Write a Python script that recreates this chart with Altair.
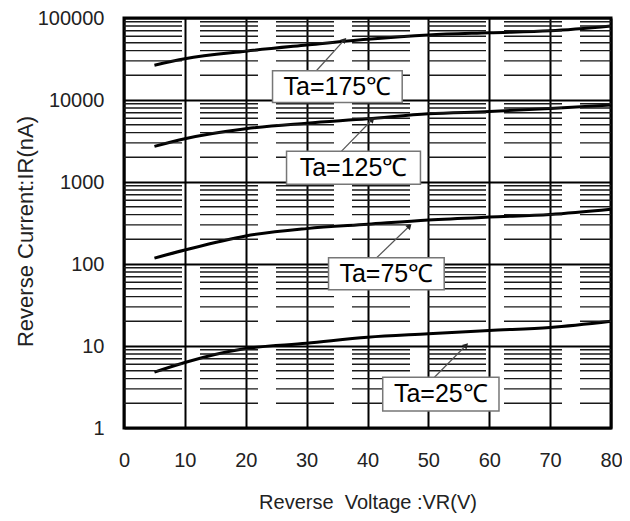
import altair as alt
import pandas as pd

# ---- data ----
vr = [5, 10, 20, 30, 40, 50, 60, 70, 80]
ir_175 = [26500, 31800, 39400, 46800, 55000, 62000, 66000, 69800, 80000]
ir_125 = [2720, 3370, 4460, 5210, 5890, 6780, 7230, 7870, 8720]
ir_75 = [118, 148, 220, 270, 305, 344, 374, 401, 464]
ir_25 = [4.8, 6.3, 9.3, 10.8, 12.8, 14.1, 15.5, 16.8, 20.0]
series = ["175", "125", "75", "25"]

labels = ["Ta=175℃", "Ta=125℃", "Ta=75℃", "Ta=25℃"]
box_x1 = [24.4, 26.7, 33.6, 42.5]
box_x2 = [45.7, 48.7, 52.6, 61.6]
box_ytop = [22740, 2364, 119, 4.16]
box_ybot = [9290, 940, 48.6, 1.61]
arrow_x1 = [31.6, 35.7, 41.5, 51.0]
arrow_y1 = [22740, 2364, 119, 4.16]
arrow_x2 = [36.2, 40.8, 46.9, 56.2]
arrow_y2 = [54100, 5780, 291, 10.2]

x_ticks = list(range(0, 81, 10))
y_decades = [1, 10, 100, 1000, 10000, 100000]
y_minor = [m * 10 ** k for k in range(5) for m in range(2, 10)]

W, H = 487, 410
FONT = "Liberation Sans"

rows = []
for name, vals in zip(series, [ir_175, ir_125, ir_75, ir_25]):
    for v, i in zip(vr, vals):
        rows.append({"vr": v, "ir": i, "s": name})
curves = pd.DataFrame(rows)

ann = pd.DataFrame({
    "label": labels,
    "bx1": box_x1, "bx2": box_x2, "by1": box_ytop, "by2": box_ybot,
    "ax1": arrow_x1, "ay1": arrow_y1, "ax2": arrow_x2, "ay2": arrow_y2,
})
ann["cx"] = (ann["bx1"] + ann["bx2"]) / 2
ann["cy"] = (ann["by1"] * ann["by2"]) ** 0.5

minor = pd.DataFrame({"v": y_minor})

xs = alt.Scale(domain=[0, 80], nice=False, zero=False)
ys = alt.Scale(type="log", domain=[1, 100000], nice=False)

XA = alt.Axis(
    values=x_ticks, title="Reverse \u00a0Voltage :VR(V)", grid=True,
    gridColor="black", gridWidth=2, gridOpacity=1,
    domain=False, ticks=False, labelPadding=22, labelFlush=False,
    labelFontSize=20, labelFont=FONT, labelColor="#222",
    titleFontSize=20, titleFont=FONT, titleColor="#222",
    titleFontWeight="normal", titleY=84, titleBaseline="bottom",
)
YA = alt.Axis(
    values=y_decades, format="d", title="Reverse Current:IR(nA)",
    grid=True, gridColor="black", gridWidth=2, gridOpacity=1,
    domain=False, ticks=False, labelPadding=20, labelFlush=False,
    labelFontSize=20, labelFont=FONT, labelColor="#222",
    titleFontSize=22, titleFont=FONT, titleColor="#222",
    titleFontWeight="normal", titleX=-99, titleY=213, titleBaseline="middle",
)

lines = alt.Chart(curves).mark_line(
    color="black", strokeWidth=3, interpolate="monotone"
).encode(
    x=alt.X("vr:Q", scale=xs, axis=XA),
    y=alt.Y("ir:Q", scale=ys, axis=YA),
    detail="s:N",
)

minor_rules = alt.Chart(minor).mark_rule(
    color="#1a1a1a", strokeWidth=1.4, strokeDash=[58, 18]
).encode(
    x=alt.value(0), x2=alt.value(W),
    y=alt.Y("v:Q", scale=ys, axis=YA),
)

arrows = alt.Chart(ann).mark_rule(color="#555", strokeWidth=1.2).encode(
    x=alt.X("ax1:Q", scale=xs, axis=XA), x2="ax2:Q",
    y=alt.Y("ay1:Q", scale=ys, axis=YA), y2="ay2:Q",
)

heads = alt.Chart(ann).mark_point(
    shape="triangle-up", angle=44, filled=True, color="#222", size=40, opacity=1
).encode(
    x=alt.X("ax2:Q", scale=xs, axis=XA),
    y=alt.Y("ay2:Q", scale=ys, axis=YA),
)

boxes = alt.Chart(ann).mark_rect(
    fill="white", stroke="#777", strokeWidth=1.5
).encode(
    x=alt.X("bx1:Q", scale=xs, axis=XA), x2="bx2:Q",
    y=alt.Y("by1:Q", scale=ys, axis=YA), y2="by2:Q",
)

texts = alt.Chart(ann).mark_text(
    font=FONT, fontSize=25, color="black", baseline="middle", align="center"
).encode(
    x=alt.X("cx:Q", scale=xs, axis=XA),
    y=alt.Y("cy:Q", scale=ys, axis=YA),
    text="label:N",
)

chart = alt.layer(lines, minor_rules, arrows, heads, boxes, texts).properties(
    width=W, height=H,
    autosize=alt.AutoSizeParams(type="none"),
    padding={"left": 116, "top": 10, "right": 11, "bottom": 85},
    background="white",
).configure_view(stroke="black", strokeWidth=3)

chart.save("out.html", embed_options={"renderer": "svg", "actions": False})
